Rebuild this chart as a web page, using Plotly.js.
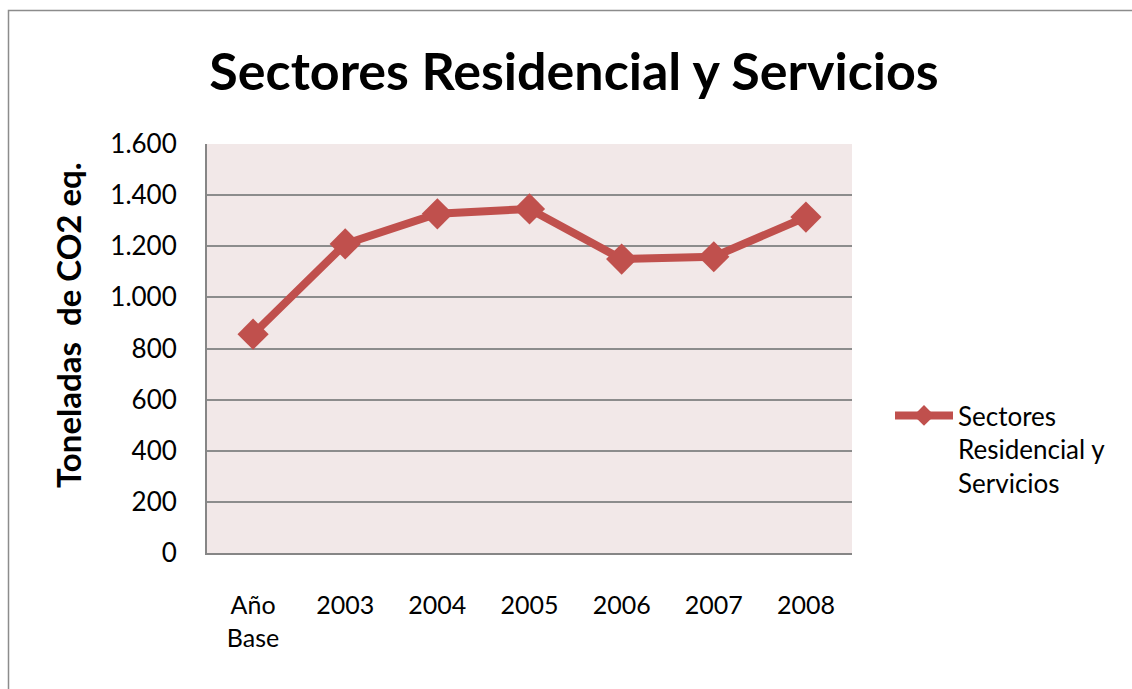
<!DOCTYPE html>
<html>
<head>
<meta charset="utf-8">
<script src="https://cdn.plot.ly/plotly-3.0.1.min.js"></script>
<style>html,body{margin:0;padding:0;background:#fff;}#chart{width:1132px;height:689px;}</style>
</head>
<body>
<div id="chart"></div>
<script>
const categories = ["Año<br>Base", "2003", "2004", "2005", "2006", "2007", "2008"];
const values = [856, 1209, 1327, 1346, 1150, 1159, 1314];
const seriesName = "Sectores<br>Residencial y<br>Servicios";
const yTicks = [0, 200, 400, 600, 800, 1000, 1200, 1400, 1600];

const W = 1132, H = 689;
const L = 207, R = 852, T = 144, B = 553;
const pw = R - L, ph = B - T;
const px = x => (x - L) / pw;
const py = y => (B - y) / ph;

const trace = {
  type: "scatter",
  mode: "lines+markers",
  x: categories,
  y: values,
  name: seriesName,
  line: {color: "#C0504D", width: 8},
  marker: {symbol: "diamond", size: 24, color: "#C0504D"},
  showlegend: true
};

const layout = {
  width: W, height: H,
  margin: {l: L, r: W - R, t: T, b: H - B, pad: 0},
  paper_bgcolor: "#FFFFFF",
  plot_bgcolor: "#F2E8E8",
  separators: ",.",
  font: {family: "Lato, 'Open Sans', sans-serif", color: "#000000"},
  title: {
    text: "<b>Sectores Residencial y Servicios</b>",
    font: {family: "Lato, 'Open Sans', sans-serif", size: 52, color: "#000"},
    x: px(574), xref: "paper", xanchor: "center",
    y: 1 - 72 / H, yref: "container", yanchor: "middle"
  },
  xaxis: {
    type: "category",
    range: [-0.5, 6.5],
    showgrid: false,
    showline: true, linecolor: "#868686", linewidth: 2,
    ticks: "", ticklabelstandoff: 29,
    tickfont: {size: 25, color: "#000"},
    zeroline: false, fixedrange: true
  },
  yaxis: {
    range: [0, 1600],
    tickvals: yTicks,
    separatethousands: true,
    tickformat: ",d",
    showgrid: true, gridcolor: "#8C8C8C", gridwidth: 2,
    showline: true, linecolor: "#868686", linewidth: 2,
    ticks: "", ticklabelstandoff: 23,
    tickfont: {size: 26, color: "#000"},
    zeroline: false, fixedrange: true
  },
  legend: {
    x: px(890), xanchor: "left",
    y: py(392), yanchor: "top",
    valign: "top",
    font: {size: 26, color: "#000"},
    bgcolor: "rgba(0,0,0,0)",
    itemwidth: 58
  },
  annotations: [{
    text: "<b>Toneladas  de CO2 eq.</b>",
    textangle: -90,
    xref: "paper", yref: "paper",
    x: px(68), y: py(325),
    xanchor: "center", yanchor: "middle",
    showarrow: false,
    font: {size: 33, color: "#000"}
  }],
  shapes: [{
    type: "rect", xref: "paper", yref: "paper",
    x0: px(8.5), x1: px(1145), y0: py(705), y1: py(10.5),
    line: {color: "#8C8C8C", width: 1.5}, fillcolor: "rgba(0,0,0,0)",
    layer: "above"
  }]
};

Plotly.newPlot("chart", [trace], layout, {displayModeBar: false, staticPlot: true});
</script>
</body>
</html>
